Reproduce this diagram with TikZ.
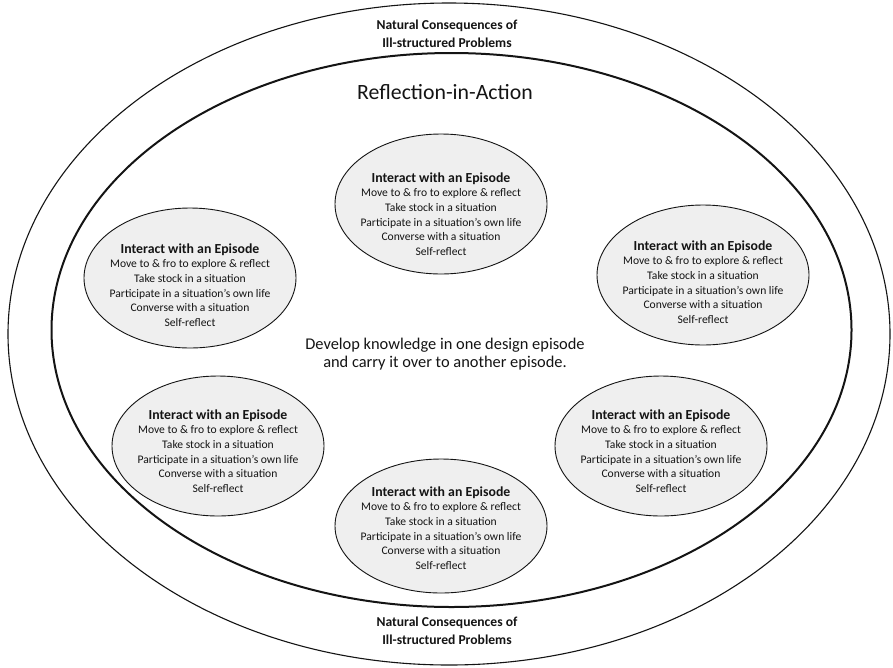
\documentclass[tikz,border=0pt]{standalone}
\usepackage{fontspec}
\setmainfont{Carlito}
\usetikzlibrary{shapes.geometric}
\definecolor{epfill}{HTML}{EFEFEF}
\definecolor{ink}{HTML}{141414}
\newcommand\epitext{{\fontsize{13.8}{15}\selectfont\bfseries Interact with an Episode}\\
Move to \& fro to explore \& reflect\\
Take stock in a situation\\
Participate in a situation’s own life\\
Converse with a situation\\
Self-reflect}
\tikzset{
  epbox/.style={ellipse, draw=ink, line width=0.9pt, fill=epfill, inner sep=0pt,
    minimum width=212pt, minimum height=140pt},
  eptext/.style={align=center, text=ink, font=\fontsize{11.6}{14.6}\selectfont, inner sep=0pt},
  ring/.style={ellipse, draw=ink, inner sep=0pt},
  headtext/.style={align=center, text=ink, font=\fontsize{13.6}{17.5}\selectfont\bfseries, inner sep=0pt}
}
\begin{document}
\begin{tikzpicture}[x=1pt,y=-1pt]
\useasboundingbox (0,0) rectangle (893,667);
\fill[white] (0,0) rectangle (893,667);
\node[ring, line width=1.1pt, minimum width=882pt, minimum height=662pt] (outer) at (449,334) {};
\node[ring, line width=2pt, minimum width=800pt, minimum height=554pt] (inner) at (451.5,330) {};
\node[headtext] (toplabel) at (447,34) {Natural Consequences of\\Ill-structured Problems};
\node[headtext] (botlabel) at (447,631) {Natural Consequences of\\Ill-structured Problems};
\node[text=ink, font=\fontsize{21.8}{24}\selectfont, inner sep=0pt] (title) at (445,92) {Reflection-in-Action};
\node[align=center, text=ink, font=\fontsize{16.4}{18.5}\selectfont, inner sep=0pt] (center) at (445,354) {Develop knowledge in one design episode\\and carry it over to another episode.};
% episodes
\node[epbox] (e1) at (441,204) {};
\node[eptext] (t1) at ([yshift=-10pt]e1.center) {\epitext};
\node[epbox] (e2) at (703,275) {};
\node[eptext] (t2) at ([yshift=-7pt]e2.center) {\epitext};
\node[epbox] (e3) at (661,446) {};
\node[eptext] (t3) at ([yshift=-5pt]e3.center) {\epitext};
\node[epbox, minimum height=134pt] (e4) at (441,526) {};
\node[eptext] (t4) at ([yshift=-2pt]e4.center) {\epitext};
\node[epbox] (e5) at (218,446) {};
\node[eptext] (t5) at ([yshift=-5pt]e5.center) {\epitext};
\node[epbox] (e6) at (190,278) {};
\node[eptext] (t6) at ([yshift=-7pt]e6.center) {\epitext};
\end{tikzpicture}
\end{document}
